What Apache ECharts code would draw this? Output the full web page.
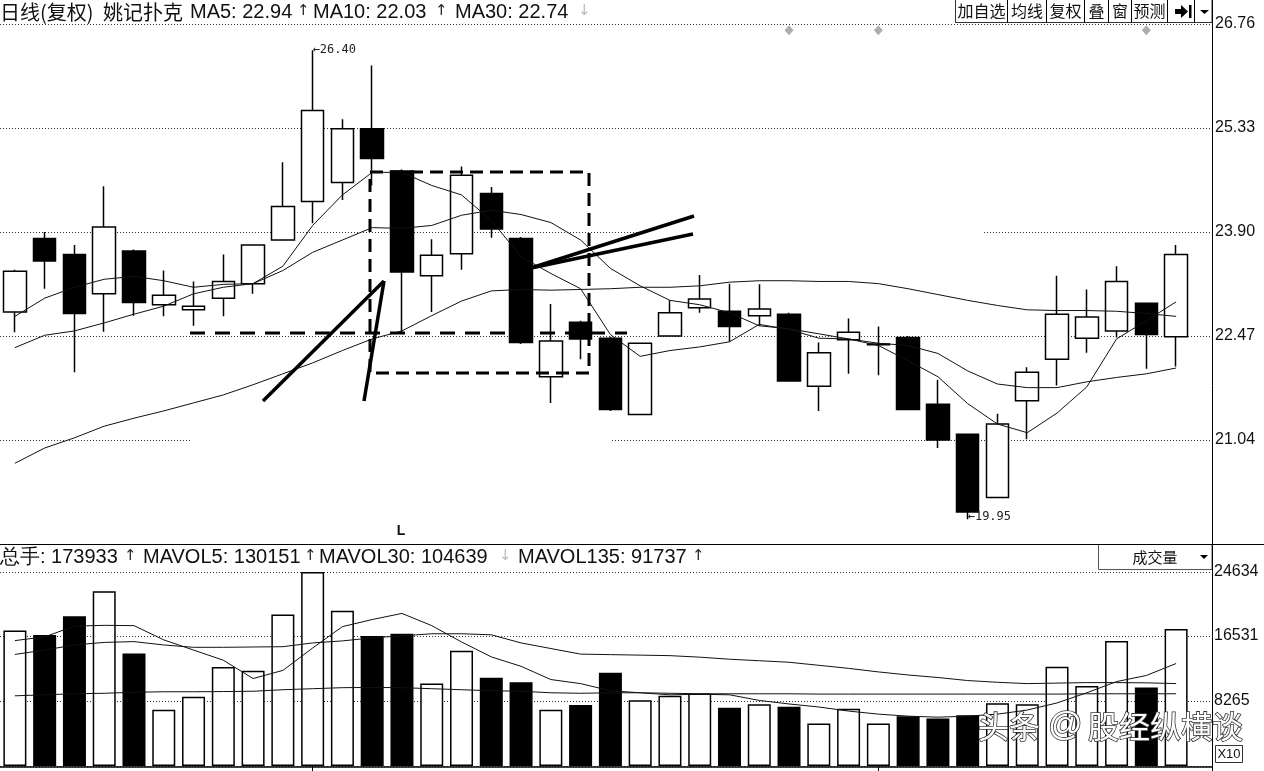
<!DOCTYPE html>
<html><head><meta charset="utf-8">
<script src="https://cdn.jsdelivr.net/npm/echarts@6/dist/echarts.min.js"></script>
<style>html,body{margin:0;padding:0;background:#fff}#c{width:1264px;height:771px}</style>
</head><body><div id="c"></div>
<script>
// ---------- data ----------
const categories = ['D1','D2','D3','D4','D5','D6','D7','D8','D9','D10','D11','D12','D13','D14','D15','D16','D17','D18','D19','D20',
  'D21','D22','D23','D24','D25','D26','D27','D28','D29','D30','D31','D32','D33','D34','D35','D36','D37','D38','D39','D40'];
const opens  = [22.80,23.81,23.59,23.05,23.64,22.90,22.83,22.99,23.19,23.79,24.32,24.58,25.32,24.74,23.30,23.60,24.43,23.81,21.91,22.66,
                22.44,21.39,22.47,22.86,22.81,22.75,22.77,21.78,22.42,22.35,22.45,21.53,21.12,20.25,21.58,22.15,22.44,22.54,22.92,22.46];
const closes = [23.36,23.50,22.78,23.97,22.93,23.03,22.88,23.22,23.72,24.25,25.57,25.32,24.91,23.35,23.58,24.68,23.94,22.38,22.40,22.43,
                21.46,22.37,22.79,22.98,22.60,22.84,21.85,22.24,22.52,22.36,21.46,21.04,20.05,21.26,21.97,22.77,22.73,23.22,22.49,23.59];
const lows   = [22.52,23.12,21.97,22.53,22.75,22.74,22.61,22.74,23.05,23.79,24.02,24.34,24.54,22.51,22.80,23.38,23.82,22.36,21.55,22.15,
                21.44,21.38,22.47,22.79,22.39,22.61,21.84,21.44,21.95,21.93,21.45,20.93,19.95,20.24,21.05,21.79,22.24,22.45,22.02,22.05];
const highs  = [23.38,23.90,23.72,24.53,23.66,23.37,23.22,23.59,23.72,24.86,26.40,25.45,26.19,24.76,23.80,24.80,24.52,23.83,22.91,22.68,
                22.46,22.37,22.96,23.31,23.19,23.18,22.79,22.38,22.71,22.60,22.47,21.87,21.12,21.40,22.04,23.30,23.11,23.43,22.92,23.72];
const ma5  = [22.31,22.48,22.54,22.65,22.77,22.88,23.05,23.14,23.19,23.43,23.99,24.41,24.72,24.72,24.54,24.41,24.06,23.56,23.33,23.12,
              22.49,22.19,22.27,22.32,22.39,22.63,22.56,22.44,22.43,22.34,22.13,21.91,21.54,21.26,21.14,21.41,21.77,22.43,22.68,22.94];
const ma10 = [22.74,22.99,23.14,23.25,23.29,23.23,23.14,23.18,23.19,23.37,23.62,23.79,23.96,23.95,23.99,24.13,24.20,24.14,24.03,23.79,
              23.40,23.16,22.96,22.90,22.79,22.61,22.57,22.50,22.43,22.37,22.34,22.23,21.99,21.81,21.76,21.76,21.84,21.90,21.95,22.03];
const ma30 = [20.72,20.93,21.07,21.23,21.34,21.44,21.55,21.66,21.80,21.95,22.10,22.27,22.43,22.54,22.75,22.95,23.09,23.11,23.10,23.11,
              23.12,23.14,23.14,23.16,23.21,23.23,23.23,23.22,23.22,23.19,23.12,23.04,22.96,22.89,22.83,22.82,22.82,22.81,22.78,22.74];
const volumes  = [17216,16622,19024,22175,14297,7142,8782,12566,12101,19243,24634,19721,16493,16790,10461,14633,11197,10629,7142,7749,
                  11843,8356,8911,9208,7400,7839,7529,5386,7271,5386,6328,6031,6458,7969,7839,12618,10164,15885,9983,17393];
const mavol5   = [15924,16402,17758,17861,17823,16015,14723,13432,11107,12140,14981,17694,18598,19373,17823,15756,13858,12657,10978,10461,
                  9557,9299,9041,9105,9041,8330,7878,7491,6974,6587,6328,6199,6328,6587,7103,8007,9299,10719,11494,13015];
const mavol30  = [14168,14723,15369,15692,15795,15369,15072,15072,15111,15149,15627,15885,16273,16531,16790,16790,16660,15627,14917,14207,
                  14142,14077,14013,13819,13561,13367,13173,12786,12398,11946,11559,11236,10849,10629,10461,10526,10590,10590,10560,10464];
const mavol135 = [8911,9041,9170,9234,9363,9428,9428,9454,9493,9686,9815,9945,9977,9945,9815,9686,9557,9493,9299,9234,
                  9299,9299,9234,9170,9170,9170,9170,9131,9131,9131,9131,9131,9131,9131,9131,9131,9170,9170,9170,9174];
const priceTickLabels = ['21.04','22.47','23.90','25.33','26.76'];
const priceAxisMin = 19.61, priceAxisMax = 26.76, priceAxisStep = 1.43;
const volTickLabels = ['8265','16531','24634'];
const volAxisMax = 24634, volAxisStep = 8265.5;
const diamondIdx = [26, 29, 38];
const headerItems = ['日线(复权)','姚记扑克','MA5: 22.94','MA10: 22.03','MA30: 22.74'];
const volHeaderItems = ['总手: 173933','MAVOL5: 130151','MAVOL30: 104639','MAVOL135: 91737'];
const buttonLabels = ['加自选','均线','复权','叠','窗','预测'];

// ---------- chart ----------
const chart = echarts.init(document.getElementById('c'), null, {renderer:'canvas'});
const LAT = '"Liberation Sans", Arial, sans-serif';
const CJK = '"Noto Sans CJK SC", sans-serif';
const grid = '#333';
const dotted = {show:true, lineStyle:{color:grid, type:[1,2], width:1}};

function txt(x, y, text, font, fill, align, extra) {
  return Object.assign({type:'text', z:20, style:{text, x, y, font, fill: fill||'#111',
    align: align||'left', verticalAlign:'middle', textAlign: align||'left', textVerticalAlign:'middle'}}, extra||{});
}
function line(x1,y1,x2,y2,w,dash,z) {
  return {type:'line', z: z==null?20:z, shape:{x1,y1,x2,y2}, style:{stroke:'#000', lineWidth:w, lineDash: dash||null}};
}

const candleData = categories.map((c,i)=>[opens[i], closes[i], lows[i], highs[i]]);
const volData = categories.map((c,i)=>({value: volumes[i], itemStyle:{color: closes[i] >= opens[i] ? '#fff' : '#000'}}));
const diamondData = diamondIdx.map(i => [categories[i], priceAxisMax - 0.085]);

const cellEdges = [955,1007,1046,1084,1108,1131,1167,1194,1212];

const graphics = [
  // erased patches of the original screenshot
  {type:'rect', z:1, shape:{x:190,y:415,width:422,height:66}, style:{fill:'#fff'}},
  {type:'rect', z:1, shape:{x:641,y:226,width:342,height:12}, style:{fill:'#fff'}},
  // frame lines
  line(1212.5,0,1212.5,771,1,null,30),
  line(0,544.5,1264,544.5,1,null,30),
  line(0,767,1212,767,1.5,null,30),
  line(312.5,767,312.5,771,1,null,30),
  line(878.5,767,878.5,771,1,null,30),
  // header
  txt(0,12,headerItems[0],'20px '+CJK),
  txt(103,12,headerItems[1],'20px '+CJK),
  txt(190,12,headerItems[2],'20px '+LAT),
  txt(297,11,'↑','15px "DejaVu Sans"','#222'),
  txt(313,12,headerItems[3],'20px '+LAT),
  txt(435,11,'↑','15px "DejaVu Sans"','#222'),
  txt(455,12,headerItems[4],'20px '+LAT),
  txt(578,11,'↓','15px "DejaVu Sans"','#bbb'),
  // volume header
  txt(0,557,volHeaderItems[0],'20px '+LAT),
  txt(124,556,'↑','15px "DejaVu Sans"','#222'),
  txt(143,557,volHeaderItems[1],'20px '+LAT),
  txt(304,556,'↑','15px "DejaVu Sans"','#222'),
  txt(319,557,volHeaderItems[2],'20px '+LAT),
  txt(499,556,'↓','15px "DejaVu Sans"','#bbb'),
  txt(518,557,volHeaderItems[3],'20px '+LAT),
  txt(692,556,'↑','15px "DejaVu Sans"','#222'),
  // toolbar
  {type:'rect', z:20, shape:{x:955.5,y:-1,width:256.5,height:23.5}, style:{fill:'#fff', stroke:'#333', lineWidth:1}},
  ...cellEdges.slice(1,-1).map(x => line(x+0.5,0,x+0.5,22.5,1,null,21)),
  ...buttonLabels.map((t,i) => txt((cellEdges[i]+cellEdges[i+1])/2+0.5, 11, t, '16px '+CJK, '#111', 'center',{z:22})),
  {type:'polygon', z:22, shape:{points:[[1175,9],[1181,9],[1181,5],[1188,11.5],[1181,18],[1181,14],[1175,14]]}, style:{fill:'#000'}},
  {type:'rect', z:22, shape:{x:1189,y:5,width:2.5,height:13}, style:{fill:'#000'}},
  {type:'polygon', z:22, shape:{points:[[1200,10],[1209,10],[1204.5,14]]}, style:{fill:'#000'}},
  // 成交量 box
  {type:'rect', z:20, shape:{x:1098.5,y:544.5,width:113.5,height:25}, style:{fill:'#fff', stroke:'#555', lineWidth:1}},
  txt(1155,557,'成交量','15px '+CJK,'#111','center'),
  {type:'polygon', z:22, shape:{points:[[1200,555],[1208,555],[1204,559]]}, style:{fill:'#000'}},
  // X10 box
  {type:'rect', z:20, shape:{x:1215.5,y:745.5,width:27,height:17}, style:{fill:'#fff', stroke:'#333', lineWidth:1}},
  txt(1229,754,'X10','13px '+LAT,'#111','center'),
  // annotations
  {type:'rect', z:25, shape:{x:370,y:172,width:219,height:201}, style:{fill:'none', stroke:'#000', lineWidth:3, lineDash:[13,7]}},
  line(190,333,627,333,3,[15,10],25),
  line(263,401,384,281,3.5,null,25),
  line(364,401,384,281,3.5,null,25),
  line(531,268,694,216,3.5,null,25),
  line(531,268,693,234,3.5,null,25),
  txt(401,531,'L','bold 14px '+LAT,'#111','center'),
  // watermark
  {type:'text', z:40, style:{text:'头条', x:978, y:726, font:'31px '+CJK, fill:'#fff', stroke:'#333', lineWidth:1.6,
     align:'left', verticalAlign:'middle', textAlign:'left', textVerticalAlign:'middle'}},
  {type:'text', z:40, style:{text:'@', x:1048, y:726, font:'34px '+LAT, fill:'#fff', stroke:'#333', lineWidth:1.6,
     align:'left', verticalAlign:'middle', textAlign:'left', textVerticalAlign:'middle'}},
  {type:'text', z:40, style:{text:'股经纵横谈', x:1088, y:726, font:'31px '+CJK, fill:'#fff', stroke:'#333', lineWidth:1.6,
     align:'left', verticalAlign:'middle', textAlign:'left', textVerticalAlign:'middle'}}
];

const priceFmt = v => { const s = (+v).toFixed(2); return priceTickLabels.includes(s) ? s : ''; };
const volFmt = v => { const s = String(Math.floor(v)); return volTickLabels.includes(s) ? s : ''; };

const option = {
  animation:false,
  backgroundColor:'#fff',
  grid:[
    {left:-3, right:73, top:24, height:520},
    {left:0, right:52, top:24, height:520},
    {left:-3, right:73, top:572, height:194},
    {left:0, right:52, top:572, height:194}
  ],
  xAxis:[
    {type:'category', gridIndex:0, data:categories, boundaryGap:true, show:false},
    {type:'value', gridIndex:1, min:0, max:1, show:false},
    {type:'category', gridIndex:2, data:categories, boundaryGap:true, show:false},
    {type:'value', gridIndex:3, min:0, max:1, show:false}
  ],
  yAxis:[
    {type:'value', gridIndex:0, min:priceAxisMin, max:priceAxisMax, show:false},
    {type:'value', gridIndex:1, position:'right', min:priceAxisMin, max:priceAxisMax, interval:priceAxisStep,
      axisLine:{show:false}, axisTick:{show:false}, splitLine:dotted,
      axisLabel:{margin:3, formatter:priceFmt, fontSize:16, fontFamily:LAT, color:'#111', showMaxLabel:true, showMinLabel:true}},
    {type:'value', gridIndex:2, min:0, max:volAxisMax, show:false},
    {type:'value', gridIndex:3, position:'right', min:0, max:volAxisMax, interval:volAxisStep,
      axisLine:{show:false}, axisTick:{show:false}, splitLine:dotted,
      axisLabel:{margin:2, formatter:volFmt, fontSize:16, fontFamily:LAT, color:'#111', showMaxLabel:true, showMinLabel:true}}
  ],
  series:[
    {type:'candlestick', xAxisIndex:0, yAxisIndex:0, data:candleData, barWidth:23,
      itemStyle:{color:'#fff', color0:'#000', borderColor:'#000', borderColor0:'#000', borderColorDoji:'#000', borderWidth:1.5},
      markPoint:{symbol:'circle', symbolSize:0, silent:true,
        label:{show:true, position:'right', distance:0, color:'#222', fontSize:12, fontFamily:'"DejaVu Sans Mono", monospace'},
        data:[
          {coord:[categories[10], highs[10]], label:{formatter:'←' + highs[10].toFixed(2)}},
          {coord:[categories[32], lows[32]], label:{formatter:'←' + lows[32].toFixed(2), offset:[0,-2]}}
        ]}},
    {type:'line', xAxisIndex:0, yAxisIndex:0, data:ma5, symbol:'none', lineStyle:{color:'#111', width:1}},
    {type:'line', xAxisIndex:0, yAxisIndex:0, data:ma10, symbol:'none', lineStyle:{color:'#111', width:1}},
    {type:'line', xAxisIndex:0, yAxisIndex:0, data:ma30, symbol:'none', lineStyle:{color:'#111', width:1}},
    {type:'scatter', xAxisIndex:0, yAxisIndex:0, data:diamondData, symbol:'diamond', symbolSize:[9,10], itemStyle:{color:'#999'}},
    {type:'bar', xAxisIndex:2, yAxisIndex:2, data:volData, barWidth:23, itemStyle:{borderColor:'#000', borderWidth:1.5}},
    {type:'line', xAxisIndex:2, yAxisIndex:2, data:mavol5, symbol:'none', lineStyle:{color:'#111', width:1}},
    {type:'line', xAxisIndex:2, yAxisIndex:2, data:mavol30, symbol:'none', lineStyle:{color:'#111', width:1}},
    {type:'line', xAxisIndex:2, yAxisIndex:2, data:mavol135, symbol:'none', lineStyle:{color:'#111', width:1}}
  ],
  graphic: graphics
};
chart.setOption(option);
</script>
</body></html>
